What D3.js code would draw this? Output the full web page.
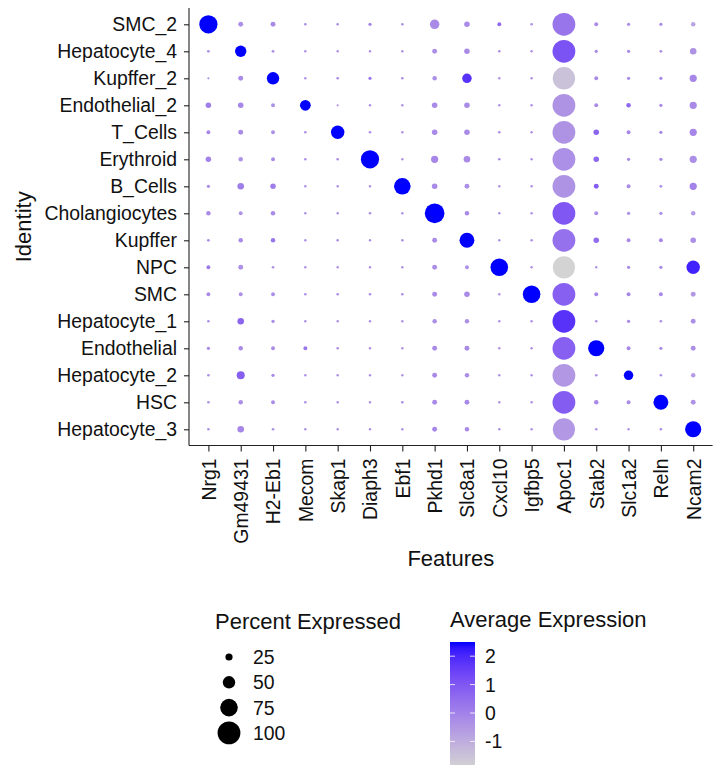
<!DOCTYPE html>
<html>
<head>
<meta charset="utf-8">
<script src="https://cdn.jsdelivr.net/npm/d3@7"></script>
<style>
  body { margin: 0; background: #fff; }
  svg { display: block; font-family: "Liberation Sans", Arial, sans-serif; }
</style>
</head>
<body>
<div id="chart"></div>
<script>
// identities (top to bottom) and features (left to right)
const identities = ['SMC_2', 'Hepatocyte_4', 'Kupffer_2', 'Endothelial_2', 'T_Cells', 'Erythroid', 'B_Cells',
  'Cholangiocytes', 'Kupffer', 'NPC', 'SMC', 'Hepatocyte_1', 'Endothelial', 'Hepatocyte_2', 'HSC', 'Hepatocyte_3'];
const features = ['Nrg1', 'Gm49431', 'H2-Eb1', 'Mecom', 'Skap1', 'Diaph3', 'Ebf1', 'Pkhd1',
  'Slc8a1', 'Cxcl10', 'Igfbp5', 'Apoc1', 'Stab2', 'Slc1a2', 'Reln', 'Ncam2'];

// percent expressed, one row per identity
const pctExpressed = [
  [78, 14, 14, 3, 3, 6, 3, 36, 17, 9, 3, 100, 9, 6, 6, 12],
  [4, 45, 4, 2, 2, 2, 2, 14, 17, 3, 2, 100, 6, 6, 4, 22],
  [1, 14, 50, 2, 3, 6, 3, 12, 36, 2, 2, 98, 9, 6, 6, 25],
  [17, 17, 9, 42, 1, 2, 2, 17, 17, 2, 2, 100, 9, 12, 6, 25],
  [9, 14, 9, 3, 55, 3, 2, 17, 17, 3, 2, 100, 17, 9, 6, 25],
  [17, 12, 9, 3, 3, 78, 2, 25, 22, 3, 2, 100, 17, 6, 6, 25],
  [6, 22, 17, 2, 2, 2, 70, 17, 14, 2, 2, 100, 14, 9, 4, 25],
  [12, 9, 12, 2, 2, 3, 2, 85, 12, 2, 2, 100, 9, 6, 6, 12],
  [4, 12, 12, 2, 3, 2, 3, 14, 62, 2, 2, 100, 17, 9, 9, 17],
  [9, 14, 3, 2, 2, 2, 2, 14, 9, 75, 2, 97, 2, 6, 6, 55],
  [9, 9, 9, 3, 3, 3, 3, 14, 17, 2, 75, 100, 9, 9, 9, 14],
  [3, 22, 6, 2, 2, 2, 2, 12, 12, 2, 2, 100, 3, 6, 3, 14],
  [6, 12, 9, 9, 3, 2, 2, 14, 14, 2, 2, 100, 68, 9, 6, 14],
  [3, 29, 6, 2, 2, 2, 2, 14, 12, 2, 2, 100, 3, 36, 3, 12],
  [3, 12, 9, 3, 2, 2, 3, 14, 14, 2, 2, 100, 12, 9, 62, 14],
  [3, 22, 3, 2, 2, 2, 2, 14, 12, 2, 2, 97, 3, 2, 3, 68]
];

// scaled average expression, one row per identity
const avgExpression = [
  [2.5, -0.3, -0.2, -0.3, -0.3, -0.1, -0.3, -0.2, -0.2, 0.6, -0.3, 0.3, -0.2, -0.3, -0.3, -0.8],
  [-0.3, 2.5, -0.3, -0.3, -0.3, -0.3, -0.3, -0.3, -0.2, -0.3, -0.3, 1.1, -0.2, -0.2, -0.3, -0.4],
  [-0.4, -0.2, 2.5, -0.3, -0.2, 0.2, -0.3, -0.3, 1.8, -0.3, -0.3, -1.5, -0.2, -0.2, -0.2, -0.1],
  [0.1, -0.1, -0.3, 2.5, -0.3, -0.3, -0.3, -0.2, -0.2, -0.3, -0.3, -0.4, -0.2, 0.6, -0.2, -0.2],
  [-0.1, -0.2, -0.3, -0.3, 2.5, -0.3, -0.3, -0.2, -0.2, -0.3, -0.3, -0.4, 0.7, -0.1, -0.2, -0.1],
  [0.0, -0.4, -0.2, -0.3, -0.3, 2.5, -0.3, -0.1, -0.2, -0.3, -0.3, -0.3, 0.6, -0.2, -0.2, -0.3],
  [-0.3, 0.1, 0.1, -0.3, -0.3, -0.3, 2.5, -0.2, -0.3, -0.3, -0.3, -0.4, 0.9, -0.2, -0.3, 0.0],
  [-0.2, -0.4, -0.2, -0.3, -0.3, -0.3, -0.3, 2.5, -0.2, -0.3, -0.3, 1.0, -0.3, -0.3, -0.3, -0.6],
  [-0.3, -0.2, 0.3, -0.3, -0.3, -0.3, -0.3, -0.2, 2.5, -0.3, -0.3, 0.4, 0.5, -0.2, -0.1, -0.3],
  [0.2, -0.3, -0.3, -0.3, -0.3, -0.3, -0.3, -0.3, -0.3, 2.5, -0.3, -1.9, -0.4, -0.2, -0.2, 2.1],
  [-0.2, -0.3, -0.3, -0.3, -0.3, -0.3, -0.3, -0.2, -0.2, -0.3, 2.5, 0.8, -0.1, -0.1, -0.1, -0.5],
  [-0.3, 0.7, -0.2, -0.3, -0.3, -0.3, -0.3, -0.3, -0.3, -0.3, -0.3, 1.8, -0.4, -0.2, -0.3, -0.3],
  [-0.2, -0.2, -0.2, 0.3, -0.3, -0.3, -0.3, -0.2, -0.2, -0.3, -0.3, 0.8, 2.5, -0.1, -0.3, -0.3],
  [-0.3, 0.8, -0.2, -0.3, -0.3, -0.3, -0.3, -0.2, -0.3, -0.3, -0.3, -0.5, -0.4, 2.5, -0.3, -0.6],
  [-0.3, -0.3, -0.2, -0.3, -0.3, -0.3, -0.3, -0.2, -0.2, -0.3, -0.3, 0.9, -0.2, -0.2, 2.5, -0.4],
  [-0.3, -0.1, -0.3, -0.3, -0.3, -0.3, -0.3, -0.1, -0.2, -0.3, -0.3, -0.5, -0.5, -0.4, -0.3, 2.5]
];

// legend values
const sizeBreaks = [25, 50, 75, 100];
const colorBreaks = [2, 1, 0, -1];

const width = 713, height = 765;
const panel = { left: 189, right: 712.6, top: 8.1, bottom: 445.5 };
const axisFont = '19.4px';
const titleFont = '22px';

const svg = d3.select('#chart')
  .append('svg')
  .attr('width', width)
  .attr('height', height)
  .style('background-color', '#fff');

const xScale = d3.scalePoint()
  .domain(features)
  .range([panel.left, panel.right])
  .padding(0.6);

const yScale = d3.scalePoint()
  .domain(identities)
  .range([panel.top, panel.bottom])
  .padding(0.6);

const rScale = d3.scaleLinear()
  .domain([0, 100])
  .range([1, 11.4]);

// colour range follows the data extent
const avgExtent = d3.extent(avgExpression.flat());
const colorScale = d3.scaleLinear()
  .domain(avgExtent)
  .range(['#D3D3D3', '#0000FF'])
  .interpolate(d3.interpolateLab);

// flatten into cells
let cells = [];
identities.forEach((id, i) => {
  features.forEach((f, j) => {
    cells.push({ id: id, feature: f, pct: pctExpressed[i][j], avg: avgExpression[i][j] });
  });
});

// dots
svg.append('g')
  .selectAll('circle')
  .data(cells)
  .join('circle')
  .attr('cx', d => xScale(d.feature))
  .attr('cy', d => yScale(d.id))
  .attr('r', d => rScale(d.pct))
  .attr('fill', d => colorScale(d.avg));

// y axis
const yAxis = svg.append('g')
  .attr('transform', `translate(${panel.left},0)`)
  .call(d3.axisLeft(yScale).tickSize(5).tickPadding(7).tickSizeOuter(0));
yAxis.select('.domain').attr('d', `M0,${panel.top}V${panel.bottom}`);

// x axis
const xAxis = svg.append('g')
  .attr('transform', `translate(0,${panel.bottom})`)
  .call(d3.axisBottom(xScale).tickSize(6).tickPadding(7).tickSizeOuter(0));
xAxis.select('.domain').attr('d', `M${panel.left},0H${panel.right}`);
xAxis.selectAll('text')
  .attr('transform', 'rotate(-90)')
  .attr('text-anchor', 'end')
  .attr('x', -13)
  .attr('y', 0)
  .attr('dy', '0.35em');

[xAxis, yAxis].forEach(ax => {
  ax.selectAll('.domain').attr('stroke', '#222').attr('stroke-width', 1.1);
  ax.selectAll('line').attr('stroke', '#222').attr('stroke-width', 1.1);
  ax.selectAll('text').attr('fill', '#111').style('font-size', axisFont)
    .style('font-family', '"Liberation Sans", Arial, sans-serif');
});

// axis titles
svg.append('text')
  .attr('transform', `translate(31,${(panel.top + panel.bottom) / 2}) rotate(-90)`)
  .attr('text-anchor', 'middle')
  .style('font-size', titleFont)
  .attr('fill', '#111')
  .text('Identity');

svg.append('text')
  .attr('x', (panel.left + panel.right) / 2)
  .attr('y', 566)
  .attr('text-anchor', 'middle')
  .style('font-size', titleFont)
  .attr('fill', '#111')
  .text('Features');

// size legend
const sizeLegend = svg.append('g');
sizeLegend.append('text')
  .attr('x', 215)
  .attr('y', 629)
  .style('font-size', titleFont)
  .attr('fill', '#111')
  .text('Percent Expressed');

sizeBreaks.forEach((b, i) => {
  let cy = 657 + i * 25.3;
  sizeLegend.append('circle')
    .attr('cx', 229)
    .attr('cy', cy)
    .attr('r', rScale(b))
    .attr('fill', '#000');
  sizeLegend.append('text')
    .attr('x', 253)
    .attr('y', cy)
    .attr('dy', '0.36em')
    .style('font-size', axisFont)
    .attr('fill', '#111')
    .text(b);
});

// colour bar legend
const barTop = 642, unit = 28.4, barX = 450, barW = 25;
const barScale = d3.scaleLinear()
  .domain(avgExtent)
  .range([barTop + (avgExtent[1] - avgExtent[0]) * unit, barTop]);

const defs = svg.append('defs');
const grad = defs.append('linearGradient')
  .attr('id', 'avgGrad')
  .attr('x1', 0).attr('y1', 1)
  .attr('x2', 0).attr('y2', 0);
d3.range(0, 1.0001, 0.05).forEach(t => {
  grad.append('stop')
    .attr('offset', t)
    .attr('stop-color', colorScale(avgExtent[0] + t * (avgExtent[1] - avgExtent[0])));
});

const colorLegend = svg.append('g');
colorLegend.append('text')
  .attr('x', 450)
  .attr('y', 627)
  .style('font-size', titleFont)
  .attr('fill', '#111')
  .text('Average Expression');

colorLegend.append('rect')
  .attr('x', barX)
  .attr('y', barScale(avgExtent[1]))
  .attr('width', barW)
  .attr('height', barScale(avgExtent[0]) - barScale(avgExtent[1]))
  .attr('fill', 'url(#avgGrad)');

colorBreaks.forEach(b => {
  let y = barScale(b);
  colorLegend.append('line')
    .attr('x1', barX).attr('x2', barX + 5)
    .attr('y1', y).attr('y2', y)
    .attr('stroke', '#fff').attr('stroke-width', 0.8);
  colorLegend.append('line')
    .attr('x1', barX + barW - 5).attr('x2', barX + barW)
    .attr('y1', y).attr('y2', y)
    .attr('stroke', '#fff').attr('stroke-width', 0.8);
  colorLegend.append('text')
    .attr('x', 485)
    .attr('y', y)
    .attr('dy', '0.36em')
    .style('font-size', axisFont)
    .attr('fill', '#111')
    .text(b);
});
</script>
</body>
</html>
